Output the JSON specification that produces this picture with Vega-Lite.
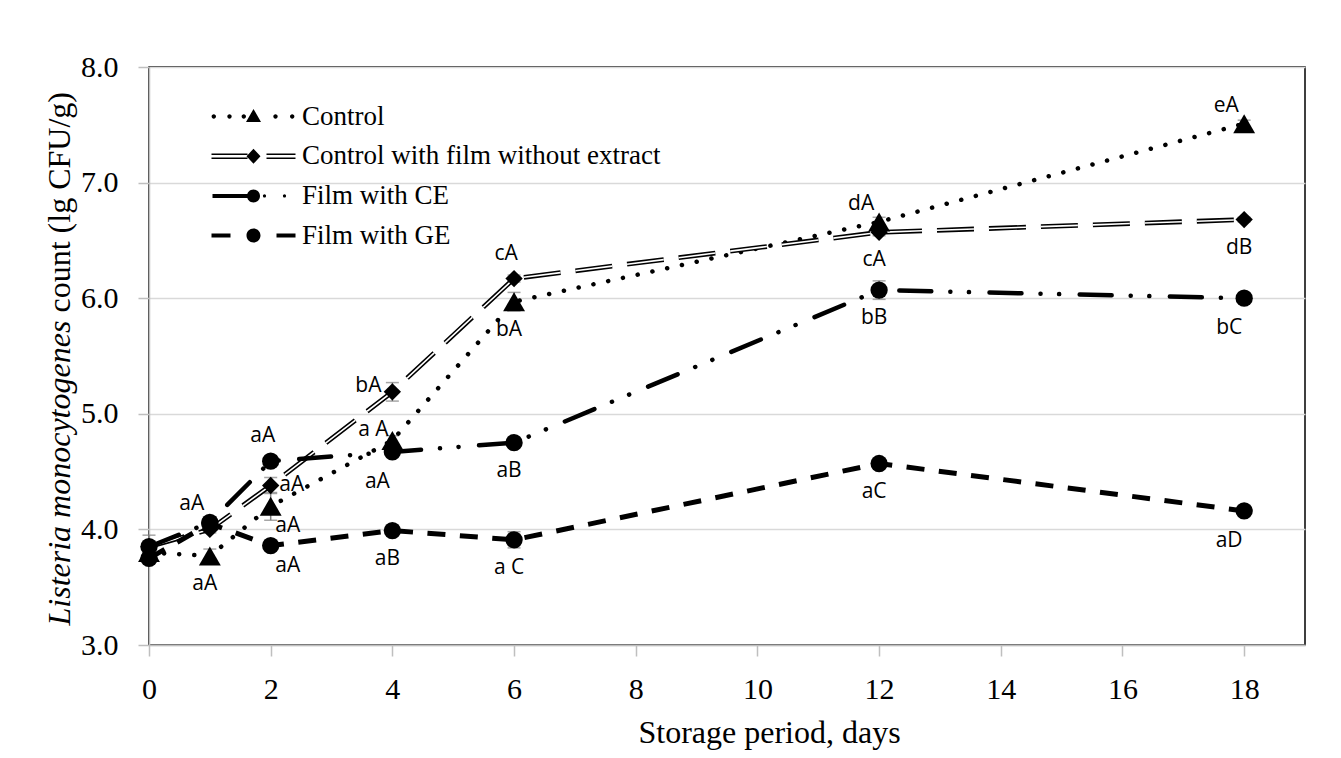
{
  "$schema": "https://vega.github.io/schema/vega-lite/v6.json",
  "width": 1156,
  "height": 578,
  "autosize": "none",
  "padding": {"left": 149, "top": 67, "right": 36, "bottom": 113},
  "background": "white",
  "config": {
    "view": {"stroke": "black", "strokeWidth": 1.5},
    "axis": {
      "domainColor": "#bfbfbf", "domainWidth": 1.5,
      "tickColor": "#bfbfbf", "tickWidth": 1.5, "tickSize": 11,
      "labelFont": "Liberation Serif", "labelFontSize": 30, "labelColor": "black",
      "titleFont": "Liberation Serif", "titleFontSize": 32, "titleColor": "black", "titleFontWeight": "normal",
      "gridColor": "#d9d9d9", "gridWidth": 1.5
    },
    "legend": {
      "orient": "none", "legendX": 91, "legendY": 36, "padding": 0,
      "symbolSize": 4, "symbolStrokeWidth": 0, "symbolOpacity": 1, "symbolFillColor": "black", "symbolStrokeColor": "transparent",
      "labelFont": "Liberation Serif", "labelFontSize": 27, "labelColor": "black", "labelOffset": 35, "labelLimit": 0,
      "rowPadding": 11.7
    }
  },
  "data": {
    "values": [
      {"series": "Control", "day": 0, "value": 3.80, "sd": 0.04, "label": "", "place": "none"},
      {"series": "Control", "day": 1, "value": 3.77, "sd": 0.06, "label": "aA", "place": "below"},
      {"series": "Control", "day": 2, "value": 4.20, "sd": 0.12, "label": "aA", "place": "belowright"},
      {"series": "Control", "day": 4, "value": 4.77, "sd": 0.04, "label": "a A", "place": "upleft"},
      {"series": "Control", "day": 6, "value": 5.97, "sd": 0.08, "label": "bA", "place": "below"},
      {"series": "Control", "day": 12, "value": 6.66, "sd": 0.04, "label": "dA", "place": "aboveleft"},
      {"series": "Control", "day": 18, "value": 7.51, "sd": 0.03, "label": "eA", "place": "aboveleft"},
      {"series": "Control with film without extract", "day": 0, "value": 3.85, "sd": 0.03, "label": "", "place": "none"},
      {"series": "Control with film without extract", "day": 1, "value": 4.00, "sd": 0.03, "label": "", "place": "none"},
      {"series": "Control with film without extract", "day": 2, "value": 4.38, "sd": 0.07, "label": "aA", "place": "right"},
      {"series": "Control with film without extract", "day": 4, "value": 5.19, "sd": 0.08, "label": "bA", "place": "left"},
      {"series": "Control with film without extract", "day": 6, "value": 6.17, "sd": 0.03, "label": "cA", "place": "above"},
      {"series": "Control with film without extract", "day": 12, "value": 6.57, "sd": 0.03, "label": "cA", "place": "below"},
      {"series": "Control with film without extract", "day": 18, "value": 6.68, "sd": 0.02, "label": "dB", "place": "below"},
      {"series": "Film with CE", "day": 0, "value": 3.85, "sd": 0.1, "label": "", "place": "none"},
      {"series": "Film with CE", "day": 1, "value": 4.06, "sd": 0.03, "label": "aA", "place": "aboveleft"},
      {"series": "Film with CE", "day": 2, "value": 4.59, "sd": 0.03, "label": "aA", "place": "above"},
      {"series": "Film with CE", "day": 4, "value": 4.67, "sd": 0.03, "label": "aA", "place": "belowleft"},
      {"series": "Film with CE", "day": 6, "value": 4.75, "sd": 0.03, "label": "aB", "place": "below"},
      {"series": "Film with CE", "day": 12, "value": 6.07, "sd": 0.08, "label": "bB", "place": "below"},
      {"series": "Film with CE", "day": 18, "value": 6.00, "sd": 0.02, "label": "bC", "place": "belowleft"},
      {"series": "Film with GE", "day": 0, "value": 3.75, "sd": 0.03, "label": "", "place": "none"},
      {"series": "Film with GE", "day": 1, "value": 4.05, "sd": 0.03, "label": "", "place": "none"},
      {"series": "Film with GE", "day": 2, "value": 3.86, "sd": 0.03, "label": "aA", "place": "belowright"},
      {"series": "Film with GE", "day": 4, "value": 3.99, "sd": 0.03, "label": "aB", "place": "below"},
      {"series": "Film with GE", "day": 6, "value": 3.91, "sd": 0.07, "label": "a C", "place": "below"},
      {"series": "Film with GE", "day": 12, "value": 4.57, "sd": 0.03, "label": "aC", "place": "below"},
      {"series": "Film with GE", "day": 18, "value": 4.16, "sd": 0.02, "label": "aD", "place": "belowleft"}
    ]
  },
  "encoding": {
    "x": {
      "field": "day", "type": "quantitative",
      "scale": {"domain": [0, 19], "nice": false, "zero": false},
      "axis": {
        "values": [0, 2, 4, 6, 8, 10, 12, 14, 16, 18], "grid": false, "labelPadding": 18, "labelFlush": false,
        "title": "Storage period, days", "titleX": 489, "titleY": 97, "titleAlign": "left", "titleBaseline": "alphabetic"
      }
    }
  },
  "layer": [
    {
      "mark": {"type": "errorbar", "ticks": {"size": 13, "color": "#808080", "thickness": 1.5}, "rule": {"color": "#808080", "strokeWidth": 1.5}},
      "encoding": {
        "y": {"field": "value", "type": "quantitative", "scale": {"domain": [3, 8], "nice": false, "zero": false}, "axis": null},
        "yError": {"field": "sd"}
      }
    },
    {
      "transform": [{"filter": "datum.series === 'Control'"}],
      "mark": {"type": "line", "color": "black", "strokeWidth": 4.5, "strokeDash": [0.1, 15], "strokeCap": "round"},
      "encoding": {
        "y": {
          "field": "value", "type": "quantitative",
          "axis": {
            "orient": "left", "values": [3, 4, 5, 6, 7, 8], "format": ".1f", "grid": true, "labelPadding": 20,
            "title": "count (lg CFU/g)", "titleX": -80, "titleY": 245, "titleAngle": 270, "titleAlign": "left", "titleBaseline": "alphabetic"
          }
        }
      }
    },
    {
      "transform": [{"filter": "datum.series === 'Control with film without extract'"}],
      "mark": {"type": "line", "color": "black", "strokeWidth": 4.8, "strokeDash": [37, 15]},
      "encoding": {"y": {"field": "value", "type": "quantitative", "axis": null}}
    },
    {
      "transform": [{"filter": "datum.series === 'Control with film without extract'"}],
      "mark": {"type": "line", "color": "white", "strokeWidth": 1.6, "strokeDash": [37, 15]},
      "encoding": {"y": {"field": "value", "type": "quantitative", "axis": null}}
    },
    {
      "transform": [{"filter": "datum.series === 'Film with CE'"}],
      "mark": {"type": "line", "color": "black", "strokeWidth": 4.5, "strokeDash": [32, 19, 0.1, 18.5, 0.1, 20.5], "strokeCap": "round"},
      "encoding": {"y": {"field": "value", "type": "quantitative", "axis": null}}
    },
    {
      "transform": [{"filter": "datum.series === 'Film with GE'"}],
      "mark": {"type": "line", "color": "black", "strokeWidth": 5, "strokeDash": [18, 14.5]},
      "encoding": {"y": {"field": "value", "type": "quantitative", "axis": null}}
    },
    {
      "transform": [{"filter": "datum.series === 'Control'"}],
      "mark": {"type": "point", "filled": true, "opacity": 1, "color": "black", "strokeWidth": 0, "size": 480},
      "encoding": {
        "y": {
          "field": "value", "type": "quantitative",
          "axis": {
            "orient": "left", "labels": false, "ticks": false, "domain": false, "grid": false,
            "title": "Listeria monocytogenes", "titleFontStyle": "italic",
            "titleX": -80, "titleY": 558, "titleAngle": 270, "titleAlign": "left", "titleBaseline": "alphabetic"
          }
        },
        "shape": {
          "field": "series", "type": "nominal",
          "scale": {
            "domain": ["Control", "Control with film without extract", "Film with CE", "Film with GE"],
            "range": ["triangle-up", "diamond", "circle", "circle"]
          },
          "legend": null
        }
      }
    },
    {
      "transform": [{"filter": "datum.series !== 'Control'"}],
      "mark": {"type": "point", "filled": true, "opacity": 1, "color": "black", "strokeWidth": 0, "size": 300},
      "encoding": {
        "y": {"field": "value", "type": "quantitative", "axis": null},
        "shape": {
          "field": "series", "type": "nominal",
          "scale": {
            "domain": ["Control", "Control with film without extract", "Film with CE", "Film with GE"],
            "range": ["triangle-up", "diamond", "circle", "circle"]
          },
          "legend": null
        }
      }
    },
    {
      "transform": [{"filter": "false"}],
      "mark": {"type": "point", "filled": true, "opacity": 1, "color": "black", "strokeWidth": 0},
      "encoding": {
        "y": {"field": "value", "type": "quantitative", "axis": null},
        "shape": {
          "field": "series", "type": "nominal",
          "scale": {
            "domain": ["Control", "Control with film without extract", "Film with CE", "Film with GE"],
            "range": [
              "M-41.9,0a2.2,2.2 0 1,0 4.4,0a2.2,2.2 0 1,0 -4.4,0M-26.2,0a2.2,2.2 0 1,0 4.4,0a2.2,2.2 0 1,0 -4.4,0M-11.9,0a2.2,2.2 0 1,0 4.4,0a2.2,2.2 0 1,0 -4.4,0M19.8,0a2.2,2.2 0 1,0 4.4,0a2.2,2.2 0 1,0 -4.4,0M36.5,0a2.2,2.2 0 1,0 4.4,0a2.2,2.2 0 1,0 -4.4,0M0,-7.5L-7.5,5.5L7.5,5.5Z",
              "M-42,-2.7H-6V-1.2H-42ZM-42,1.2H-6V2.7H-42ZM13,-2.7H42V-1.2H13ZM13,1.2H42V2.7H13ZM0,-7.5L7,0L0,7.5L-7,0Z",
              "M-41,-2V2H0V-2ZM-6.5,0a6.5,6.5 0 1,0 13,0a6.5,6.5 0 1,0 -13,0M9.4,0a1.6,1.6 0 1,0 3.2,0a1.6,1.6 0 1,0 -3.2,0M29.4,0a1.6,1.6 0 1,0 3.2,0a1.6,1.6 0 1,0 -3.2,0",
              "M-42,-2H-23V2H-42ZM23,-2H42V2H23ZM-7,0a7,7 0 1,0 14,0a7,7 0 1,0 -14,0"
            ]
          },
          "legend": {"title": null}
        }
      }
    },
    {
      "transform": [{"filter": "datum.place === 'below'"}],
      "mark": {"type": "text", "font": "Open Sans", "fontSize": 21, "color": "black", "baseline": "middle", "align": "center", "dx": -5, "dy": 28},
      "encoding": {"y": {"field": "value", "type": "quantitative", "axis": null}, "text": {"field": "label"}}
    },
    {
      "transform": [{"filter": "datum.place === 'belowleft'"}],
      "mark": {"type": "text", "font": "Open Sans", "fontSize": 21, "color": "black", "baseline": "middle", "align": "center", "dx": -15, "dy": 30},
      "encoding": {"y": {"field": "value", "type": "quantitative", "axis": null}, "text": {"field": "label"}}
    },
    {
      "transform": [{"filter": "datum.place === 'belowright'"}],
      "mark": {"type": "text", "font": "Open Sans", "fontSize": 21, "color": "black", "baseline": "middle", "align": "center", "dx": 17, "dy": 20},
      "encoding": {"y": {"field": "value", "type": "quantitative", "axis": null}, "text": {"field": "label"}}
    },
    {
      "transform": [{"filter": "datum.place === 'above'"}],
      "mark": {"type": "text", "font": "Open Sans", "fontSize": 21, "color": "black", "baseline": "middle", "align": "center", "dx": -8, "dy": -25},
      "encoding": {"y": {"field": "value", "type": "quantitative", "axis": null}, "text": {"field": "label"}}
    },
    {
      "transform": [{"filter": "datum.place === 'aboveleft'"}],
      "mark": {"type": "text", "font": "Open Sans", "fontSize": 21, "color": "black", "baseline": "middle", "align": "center", "dx": -18, "dy": -18},
      "encoding": {"y": {"field": "value", "type": "quantitative", "axis": null}, "text": {"field": "label"}}
    },
    {
      "transform": [{"filter": "datum.place === 'upleft'"}],
      "mark": {"type": "text", "font": "Open Sans", "fontSize": 21, "color": "black", "baseline": "middle", "align": "center", "dx": -19, "dy": -10},
      "encoding": {"y": {"field": "value", "type": "quantitative", "axis": null}, "text": {"field": "label"}}
    },
    {
      "transform": [{"filter": "datum.place === 'right'"}],
      "mark": {"type": "text", "font": "Open Sans", "fontSize": 21, "color": "black", "baseline": "middle", "align": "center", "dx": 21, "dy": 0},
      "encoding": {"y": {"field": "value", "type": "quantitative", "axis": null}, "text": {"field": "label"}}
    },
    {
      "transform": [{"filter": "datum.place === 'left'"}],
      "mark": {"type": "text", "font": "Open Sans", "fontSize": 21, "color": "black", "baseline": "middle", "align": "center", "dx": -24, "dy": -6},
      "encoding": {"y": {"field": "value", "type": "quantitative", "axis": null}, "text": {"field": "label"}}
    }
  ],
  "resolve": {"axis": {"y": "independent"}, "scale": {"shape": "independent"}, "legend": {"shape": "independent"}}
}
